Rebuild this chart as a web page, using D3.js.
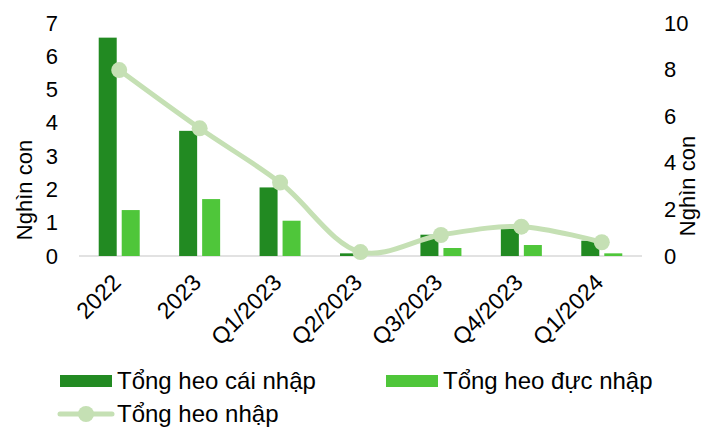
<!DOCTYPE html>
<html>
<head>
<meta charset="utf-8">
<script src="https://cdn.jsdelivr.net/npm/d3@7/dist/d3.min.js"></script>
<style>
    body { margin: 0; background: #fff; }
    svg text { font-family: "Liberation Sans", Arial, sans-serif; fill: #000; }
</style>
</head>
<body>
<div id="chart"></div>
<script>
// Nhập heo giống: bars on the left axis, total line on the right axis (nghìn con)
const categories = ['2022', '2023', 'Q1/2023', 'Q2/2023', 'Q3/2023', 'Q4/2023', 'Q1/2024'];
const heoCai = [6.56, 3.76, 2.06, 0.08, 0.64, 0.92, 0.46];
const heoDuc = [1.38, 1.71, 1.06, 0, 0.24, 0.33, 0.08];
const heoTong = [7.98, 5.48, 3.15, 0.17, 0.9, 1.26, 0.59];
const leftTicks = [0, 1, 2, 3, 4, 5, 6, 7];
const rightTicks = [0, 2, 4, 6, 8, 10];

const COLOR_CAI = '#228a22';
const COLOR_DUC = '#4fc63a';
const COLOR_TONG = '#c5e0b4';

const width = 712;
const height = 431;
const plot = { left: 79, right: 642, top: 23, bottom: 256 };

const svg = d3.select('#chart')
    .append('svg')
    .attr('width', width)
    .attr('height', height);

const x = d3.scaleBand()
    .domain(categories)
    .range([plot.left, plot.right])
    .padding(0);

const yLeft = d3.scaleLinear().domain([0, 7]).range([plot.bottom, plot.top]);
const yRight = d3.scaleLinear().domain([0, 10]).range([plot.bottom, plot.top]);

// baseline
svg.append('line')
    .attr('x1', plot.left)
    .attr('x2', plot.right)
    .attr('y1', plot.bottom)
    .attr('y2', plot.bottom)
    .attr('stroke', '#d9d9d9')
    .attr('stroke-width', 1.5);

// bars: two series side by side around the band centre
const barW = 18;
const barGap = 5;

svg.append('g')
    .selectAll('rect')
    .data(categories)
    .join('rect')
    .attr('x', (d) => x(d) + x.bandwidth() / 2 - barGap / 2 - barW)
    .attr('y', (d, i) => yLeft(heoCai[i]))
    .attr('width', barW)
    .attr('height', (d, i) => plot.bottom - yLeft(heoCai[i]))
    .attr('fill', COLOR_CAI);

svg.append('g')
    .selectAll('rect')
    .data(categories)
    .join('rect')
    .attr('x', (d) => x(d) + x.bandwidth() / 2 + barGap / 2)
    .attr('y', (d, i) => yLeft(heoDuc[i]))
    .attr('width', barW)
    .attr('height', (d, i) => plot.bottom - yLeft(heoDuc[i]))
    .attr('fill', COLOR_DUC);

// smoothed total line
const line = d3.line()
    .x((d, i) => x(categories[i]) + x.bandwidth() / 2)
    .y((d) => yRight(d))
    .curve(d3.curveCatmullRom.alpha(0.5));

svg.append('path')
    .datum(heoTong)
    .attr('d', line)
    .attr('fill', 'none')
    .attr('stroke', COLOR_TONG)
    .attr('stroke-width', 5)
    .attr('stroke-linecap', 'round');

svg.append('g')
    .selectAll('circle')
    .data(heoTong)
    .join('circle')
    .attr('cx', (d, i) => x(categories[i]) + x.bandwidth() / 2)
    .attr('cy', (d) => yRight(d))
    .attr('r', 8)
    .attr('fill', COLOR_TONG);

// axes (text only, no domain lines or ticks)
const leftAxis = svg.append('g')
    .attr('transform', `translate(${plot.left - 21},0)`)
    .call(d3.axisLeft(yLeft).tickValues(leftTicks).tickFormat(d3.format('d')).tickSize(0).tickPadding(0));

const rightAxis = svg.append('g')
    .attr('transform', `translate(${plot.right + 22},0)`)
    .call(d3.axisRight(yRight).tickValues(rightTicks).tickFormat(d3.format('d')).tickSize(0).tickPadding(0));

[leftAxis, rightAxis].forEach((a) => {
    a.select('.domain').remove();
    a.selectAll('text')
        .attr('font-size', '22px')
        .attr('font-family', '"Liberation Sans", Arial, sans-serif')
        .attr('fill', '#000');
});

const xAxis = svg.append('g')
    .attr('transform', `translate(0,${plot.bottom})`)
    .call(d3.axisBottom(x).tickSize(0).tickPadding(0));

xAxis.select('.domain').remove();
xAxis.selectAll('text')
    .attr('font-size', '23px')
    .attr('font-family', '"Liberation Sans", Arial, sans-serif')
    .attr('fill', '#000')
    .attr('text-anchor', 'end')
    .attr('dy', '0')
    .attr('transform', 'translate(3,28) rotate(-45)');

// axis titles
svg.append('text')
    .attr('transform', 'translate(32,190) rotate(-90)')
    .attr('text-anchor', 'middle')
    .attr('font-size', '22px')
    .text('Nghìn con');

svg.append('text')
    .attr('transform', 'translate(695,186) rotate(-90)')
    .attr('text-anchor', 'middle')
    .attr('font-size', '22px')
    .text('Nghìn con');

// legend
const legend = [
    { label: 'Tổng heo cái nhập', kind: 'bar', color: COLOR_CAI, x: 60, y: 381 },
    { label: 'Tổng heo đực nhập', kind: 'bar', color: COLOR_DUC, x: 386, y: 381 },
    { label: 'Tổng heo nhập', kind: 'line', color: COLOR_TONG, x: 60, y: 414 },
];

const lg = svg.append('g')
    .selectAll('g')
    .data(legend)
    .join('g')
    .attr('transform', (d) => `translate(${d.x},${d.y})`);

lg.each(function (d) {
    const g = d3.select(this);
    if (d.kind === 'bar') {
        g.append('rect')
            .attr('x', 0)
            .attr('y', -6)
            .attr('width', 52)
            .attr('height', 12)
            .attr('fill', d.color);
    } else {
        g.append('line')
            .attr('x1', 0)
            .attr('x2', 52)
            .attr('stroke', d.color)
            .attr('stroke-width', 5)
            .attr('stroke-linecap', 'round');
        g.append('circle')
            .attr('cx', 26)
            .attr('r', 8)
            .attr('fill', d.color);
    }
    g.append('text')
        .attr('x', 57)
        .attr('dy', '0.35em')
        .attr('font-size', '24px')
        .text(d.label);
});
</script>
</body>
</html>
